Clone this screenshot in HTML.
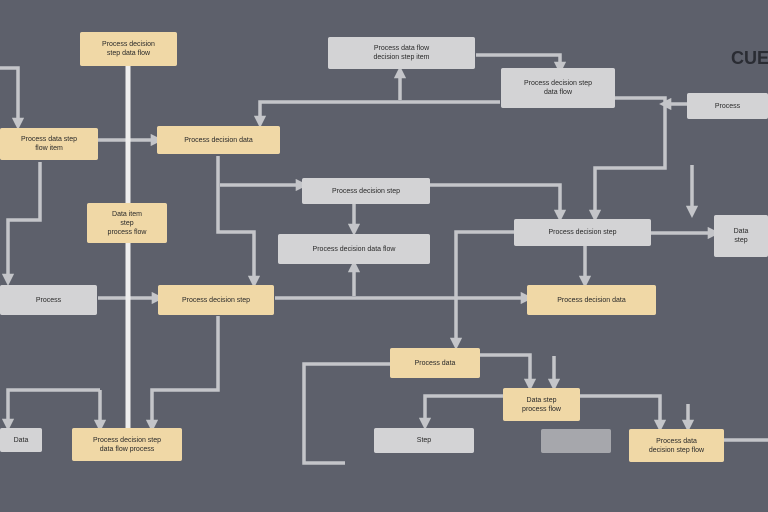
<!DOCTYPE html>
<html><head><meta charset="utf-8"><style>
body{margin:0;width:768px;height:512px;overflow:hidden;background:#5d606b;font-family:"Liberation Sans",sans-serif}
.b{position:absolute;box-sizing:border-box;display:flex;align-items:center;justify-content:center;text-align:center;font-size:7px;line-height:9px;color:#2a2a2a;border-radius:2px}
.t{background:#f0d8a6}
.g{background:#d3d3d5}
.k{background:#a6a7ac}
</style></head><body>
<svg width="768" height="512" style="position:absolute;left:0;top:0" fill="none" stroke="#c4c5c9" stroke-width="3.5">
<defs><marker id="a" markerWidth="3.5" markerHeight="3.5" refX="1.8" refY="1.75" orient="auto"><path d="M0,0L3.5,1.75L0,3.5z" fill="#c4c5c9" stroke="none"/></marker></defs>
<g marker-end="url(#a)">
<path d="M0,68H18V124"/>
<path d="M40,162V220H8V280"/>
<path d="M500,102H260V122"/>
<path d="M400,100V72"/>
<path d="M476,55H560V68"/>
<path d="M615,98H665V168H595V216"/>
<path d="M687,104H665"/>
<path d="M692,165V212"/>
<path d="M218,156V232H254V282"/>
<path d="M220,185H302"/>
<path d="M430,185H560V216"/>
<path d="M354,204V230"/>
<path d="M354,296V266"/>
<path d="M275,298H527"/>
<path d="M585,246V282"/>
<path d="M514,232H456V344"/>
<path d="M651,233H714"/>
<path d="M98,298H158"/>
<path d="M218,316V390H152V426"/>
<path d="M100,390H8V425"/>
<path d="M100,390V426"/>
<path d="M480,355H530V385"/>
<path d="M554,356V385"/>
<path d="M503,396H425V424"/>
<path d="M580,396H660V426"/>
<path d="M688,404V426"/>
<path d="M98,140H157"/>
</g>
<path d="M390,364H304V463H345"/>
<path d="M724,440H768"/>
<path d="M128,66V428" stroke="#eeeeee" stroke-width="5"/>
</svg>
<div class="b t" style="left:80px;top:32px;width:97px;height:34px">Process decision<br>step data flow</div>
<div class="b t" style="left:0;top:128px;width:98px;height:32px">Process data step<br>flow item</div>
<div class="b t" style="left:157px;top:126px;width:123px;height:28px">Process decision data</div>
<div class="b t" style="left:87px;top:203px;width:80px;height:40px">Data item<br>step<br>process flow</div>
<div class="b t" style="left:158px;top:285px;width:116px;height:30px">Process decision step</div>
<div class="b t" style="left:72px;top:428px;width:110px;height:33px">Process decision step<br>data flow process</div>
<div class="b t" style="left:390px;top:348px;width:90px;height:30px">Process data</div>
<div class="b t" style="left:527px;top:285px;width:129px;height:30px">Process decision data</div>
<div class="b t" style="left:503px;top:388px;width:77px;height:33px">Data step<br>process flow</div>
<div class="b t" style="left:629px;top:429px;width:95px;height:33px">Process data<br>decision step flow</div>
<div class="b g" style="left:328px;top:37px;width:147px;height:32px">Process data flow<br>decision step item</div>
<div class="b g" style="left:501px;top:68px;width:114px;height:40px">Process decision step<br>data flow</div>
<div class="b g" style="left:687px;top:93px;width:81px;height:26px">Process</div>
<div class="b g" style="left:302px;top:178px;width:128px;height:26px">Process decision step</div>
<div class="b g" style="left:278px;top:234px;width:152px;height:30px">Process decision data flow</div>
<div class="b g" style="left:514px;top:219px;width:137px;height:27px">Process decision step</div>
<div class="b g" style="left:714px;top:215px;width:54px;height:42px">Data<br>step</div>
<div class="b g" style="left:0;top:285px;width:97px;height:30px">Process</div>
<div class="b g" style="left:0;top:428px;width:42px;height:24px">Data</div>
<div class="b g" style="left:374px;top:428px;width:100px;height:25px">Step</div>
<div class="b k" style="left:541px;top:429px;width:70px;height:24px"></div>
<div style="position:absolute;left:731px;top:48px;font-weight:bold;font-size:18px;color:#2a2c33">CUE</div>
</body></html>
